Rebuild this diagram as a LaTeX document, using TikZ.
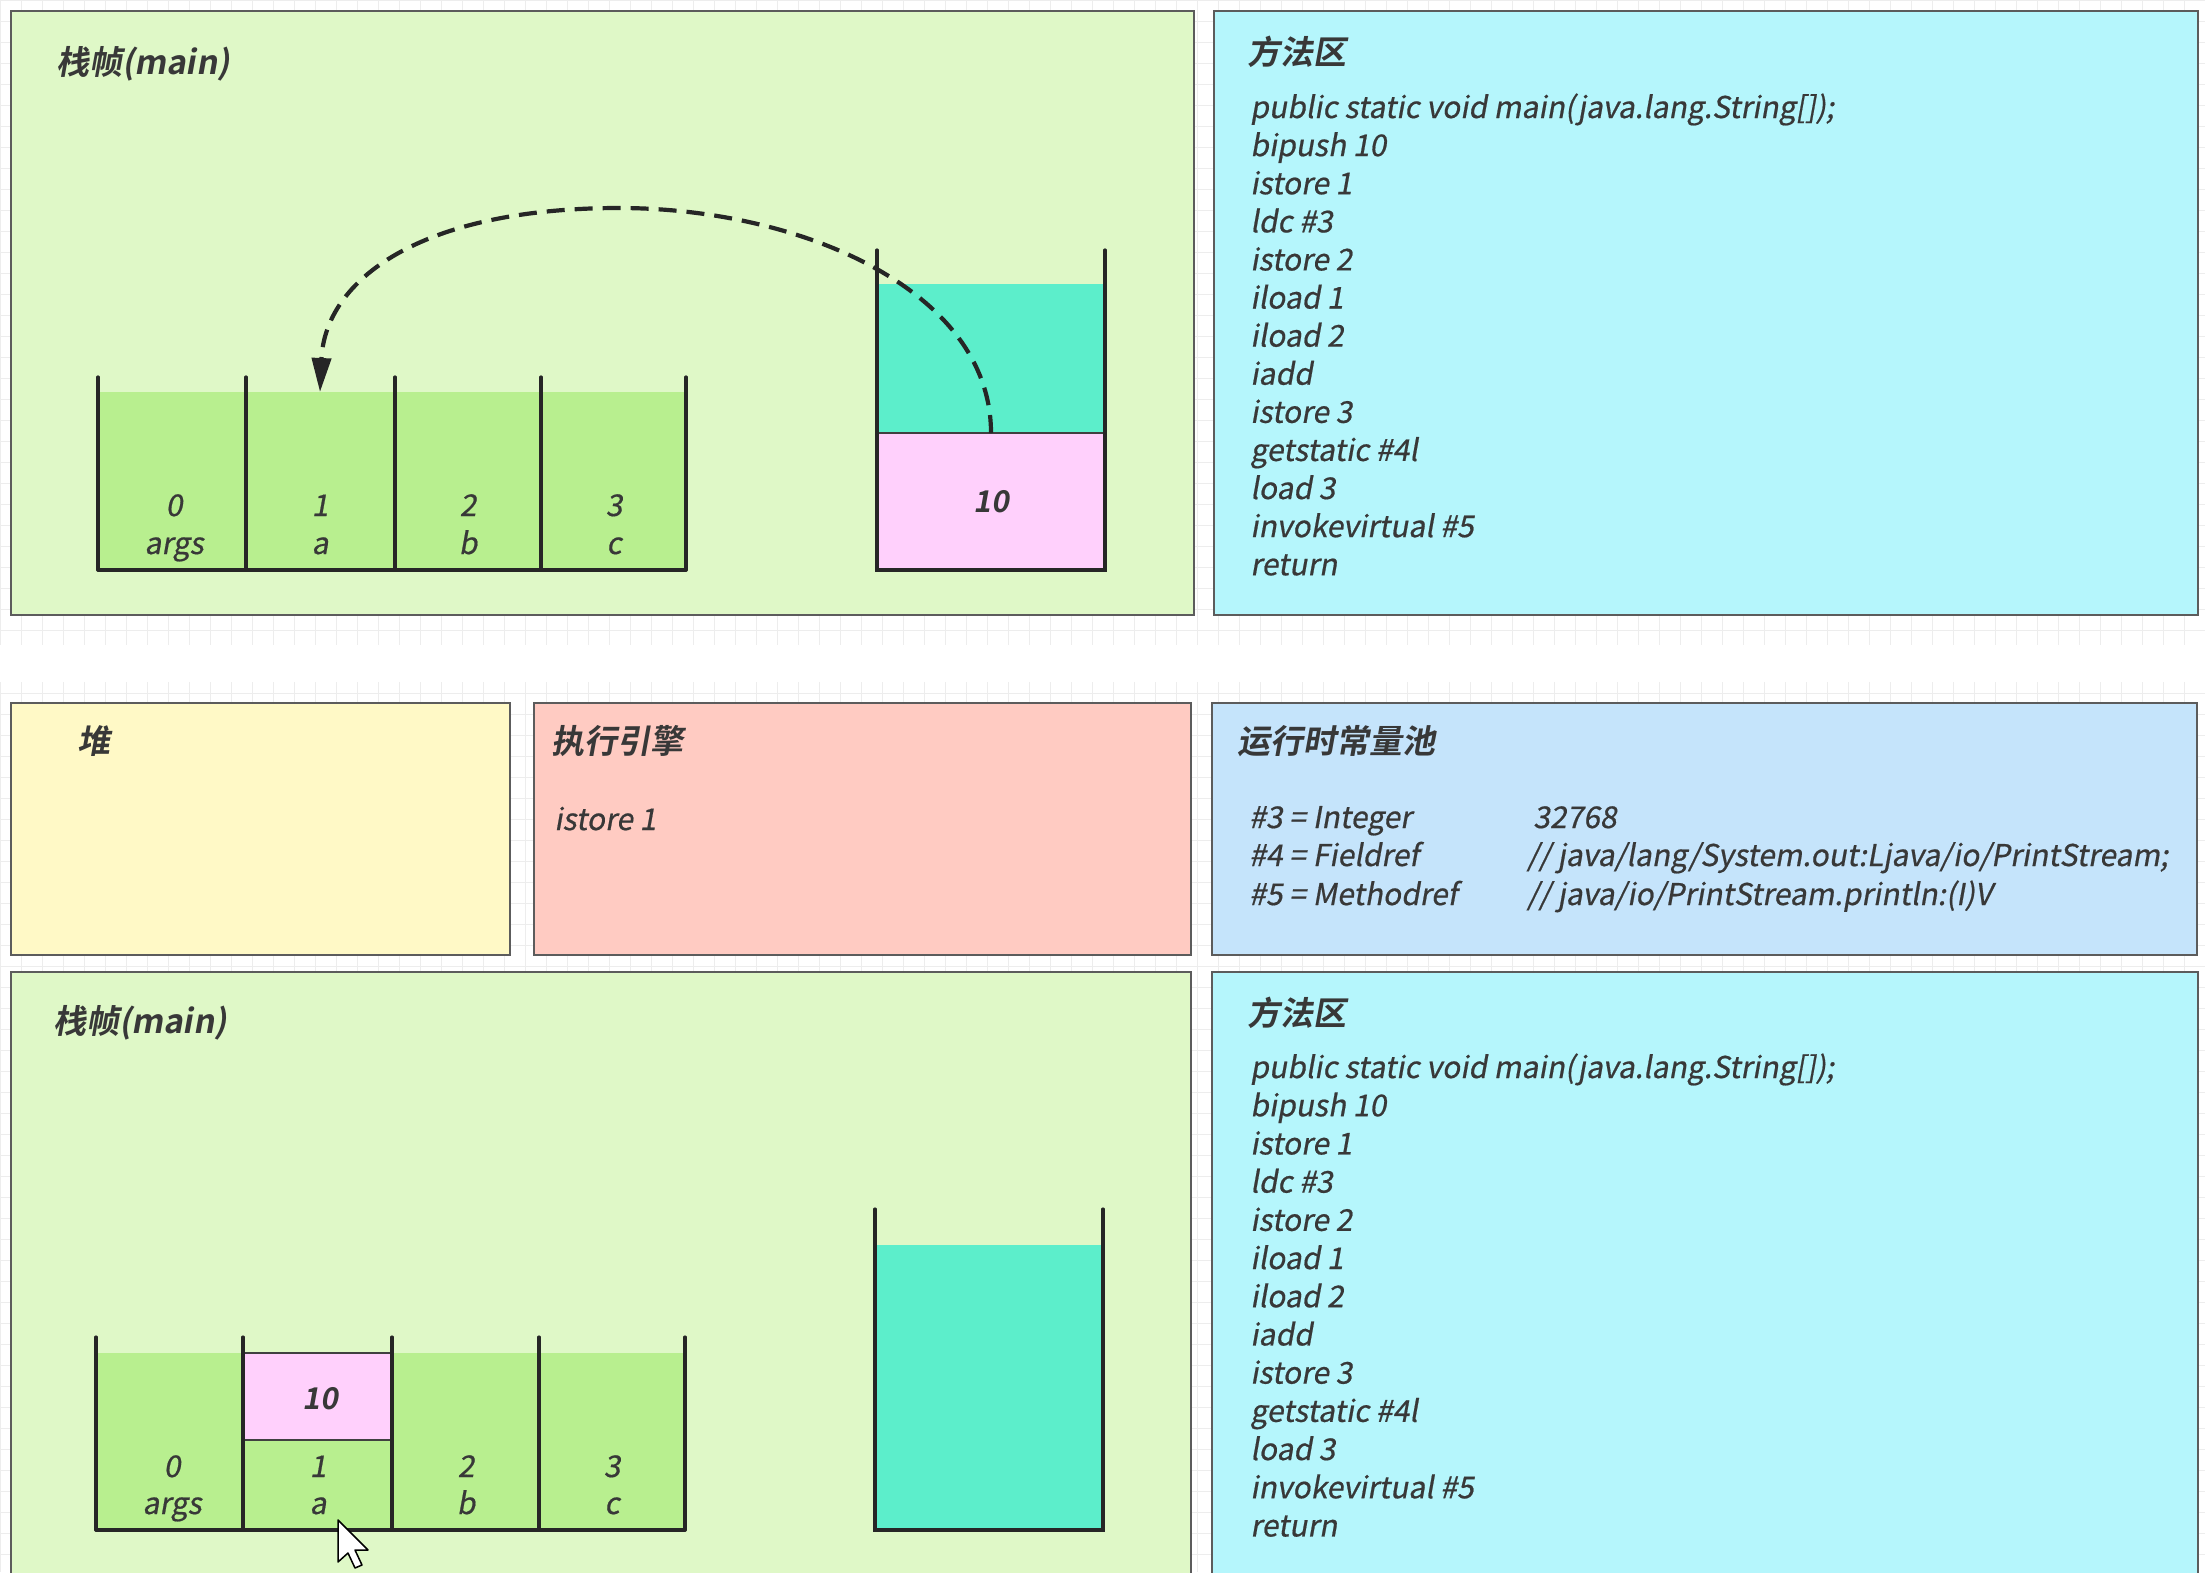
\documentclass[tikz,border=0pt]{standalone}
\usepackage{fontspec}
\usetikzlibrary{arrows.meta}
\newfontfamily\rfont{Noto Sans CJK SC}[FakeSlant=0.18,FakeBold=0.6]
\newfontfamily\bfont{Noto Sans CJK SC Bold}[FakeSlant=0.18]
\definecolor{frameg}{HTML}{DFF8C7}
\definecolor{slotg}{HTML}{B8EF8F}
\definecolor{tealc}{HTML}{5CEECB}
\definecolor{pinkc}{HTML}{FFD0FC}
\definecolor{cyanc}{HTML}{B5F6FC}
\definecolor{yellowc}{HTML}{FFF9C6}
\definecolor{salmonc}{HTML}{FFCBC2}
\definecolor{bluec}{HTML}{C5E4FB}
\definecolor{edgec}{HTML}{5C5C5C}
\definecolor{txtc}{HTML}{383838}
\definecolor{gridc}{HTML}{EDEDED}
\tikzset{
  panel/.style={draw=edgec, line width=2.5pt},
  wall/.style={draw=black!85, line width=3.2pt, line cap=round},
  code/.style={anchor=base west, inner sep=0pt, text=txtc, font=\fontsize{30}{38}\rfont},
  title/.style={anchor=base west, inner sep=0pt, text=txtc, font=\fontsize{33}{38}\bfont},
  lbl/.style={anchor=base, inner sep=0pt, text=txtc, font=\fontsize{30}{38}\rfont},
  val/.style={anchor=base, inner sep=0pt, text=txtc, font=\fontsize{30}{38}\bfont},
  cellbox/.style={draw=black!75, line width=2.5pt, fill=pinkc, inner sep=0pt, outer sep=0pt},
}
\begin{document}
\begin{tikzpicture}[x=1pt,y=-1pt]
\useasboundingbox (0,0) rectangle (2205,1572);
\fill[white] (0,0) rectangle (2205,1572);
\foreach \x in {0,21,...,2205} \draw[gridc, line width=1pt] (\x,0) -- (\x,1572);
\foreach \y in {0,21,...,1572} \draw[gridc, line width=1pt] (0,\y) -- (2205,\y);
\fill[white] (0,645) rectangle (2205,682);

% ---------- panels ----------
\draw[panel, fill=frameg] (11,11) rectangle (1194,615);
\draw[panel, fill=cyanc] (1214,11) rectangle (2198,615);
\draw[panel, fill=yellowc] (11,703) rectangle (510,955);
\draw[panel, fill=salmonc] (534,703) rectangle (1191,955);
\draw[panel, fill=bluec] (1212,703) rectangle (2197,955);
\draw[panel, fill=frameg] (11,972) rectangle (1191,1590);
\draw[panel, fill=cyanc] (1212,972) rectangle (2198,1590);

% ---------- top stack frame ----------
\node[title] (t1) at (56,74) {栈帧(main)};
\fill[slotg] (98,392) rectangle (686,570);
\foreach \x in {98,246,395,541,686} \draw[wall] (\x,377) -- (\x,570);
\draw[wall] (98,570) -- (686,570);
\foreach \c/\n/\v in {174/0/args,320/1/a,468/2/b,614/3/c}{
  \node[lbl] (tn\n) at (\c,516) {\n};
  \node[lbl] (tv\n) at (\c,554) {\v};
}
\coordinate (slot1top) at (320,392);
% operand stack
\fill[tealc] (877,284) rectangle (1105,433);
\node[cellbox, minimum width=228pt, minimum height=137pt, anchor=north west] (pink1) at (877,433) {};
\node[val] (v10a) at (991,512) {10};
\draw[wall] (877,250) -- (877,570) -- (1105,570) -- (1105,250);
% dashed arrow
\coordinate (peak) at (619,208);
\draw[black!85, line width=4.2pt, dash pattern=on 18pt off 10pt, -{Triangle[length=34pt,width=19pt]}]
  (pink1.north) .. controls (991,290) and (800,208) .. (peak)
  .. controls (420,208) and (325,280) .. (slot1top);

% ---------- top method area ----------
\node[title] (m1t) at (1247,64) {方法区};
\foreach \t [count=\i] in {public static void main(java.lang.String[]);,bipush 10,istore 1,ldc \#3,istore 2,iload 1,iload 2,iadd,istore 3,getstatic \#4l,load 3,invokevirtual \#5,return}{
  \node[code] (ma\i) at (1250,118+38.1*\i-38.1) {\t};
}

% ---------- heap / engine / pool ----------
\node[title] (heap) at (77,753) {堆};
\node[title] (eng) at (551,753) {执行引擎};
\node[code] (eng1) at (554,830) {istore 1};
\node[title] (pool) at (1237,753) {运行时常量池};
\node[code] (p1a) at (1249,828) {\#3 = Integer};
\node[code] (p1b) at (1533,828) {32768};
\node[code] (p2a) at (1249,866) {\#4 = Fieldref};
\node[code] (p2b) at (1527,866) {// java/lang/System.out:Ljava/io/PrintStream;};
\node[code] (p3a) at (1249,905) {\#5 = Methodref};
\node[code] (p3b) at (1527,905) {// java/io/PrintStream.println:(I)V};

% ---------- bottom stack frame ----------
\node[title] (t2) at (53,1033) {栈帧(main)};
\fill[slotg] (96,1353) rectangle (685,1530);
\node[cellbox, minimum width=149pt, minimum height=87pt, anchor=north west] (pink2) at (243,1353) {};
\node[val] (v10b) at (320,1409) {10};
\foreach \x in {96,243,392,539,685} \draw[wall] (\x,1337) -- (\x,1530);
\draw[wall] (96,1530) -- (685,1530);
\foreach \c/\n/\v in {172/0/args,318/1/a,466/2/b,612/3/c}{
  \node[lbl] (bn\n) at (\c,1477) {\n};
  \node[lbl] (bv\n) at (\c,1514) {\v};
}
\fill[tealc] (875,1245) rectangle (1103,1530);
\draw[wall] (875,1209) -- (875,1530) -- (1103,1530) -- (1103,1209);

% cursor
\draw[black, fill=white, line width=1.5pt, line join=round]
  (338,1520) -- (338,1562) -- (348,1553) -- (355,1568) -- (362,1565) -- (355,1550) -- (368,1550) -- cycle;

% ---------- bottom method area ----------
\node[title] (m2t) at (1247,1025) {方法区};
\foreach \t [count=\i] in {public static void main(java.lang.String[]);,bipush 10,istore 1,ldc \#3,istore 2,iload 1,iload 2,iadd,istore 3,getstatic \#4l,load 3,invokevirtual \#5,return}{
  \node[code] (mb\i) at (1250,1078+38.2*\i-38.2) {\t};
}
\end{tikzpicture}
\end{document}
